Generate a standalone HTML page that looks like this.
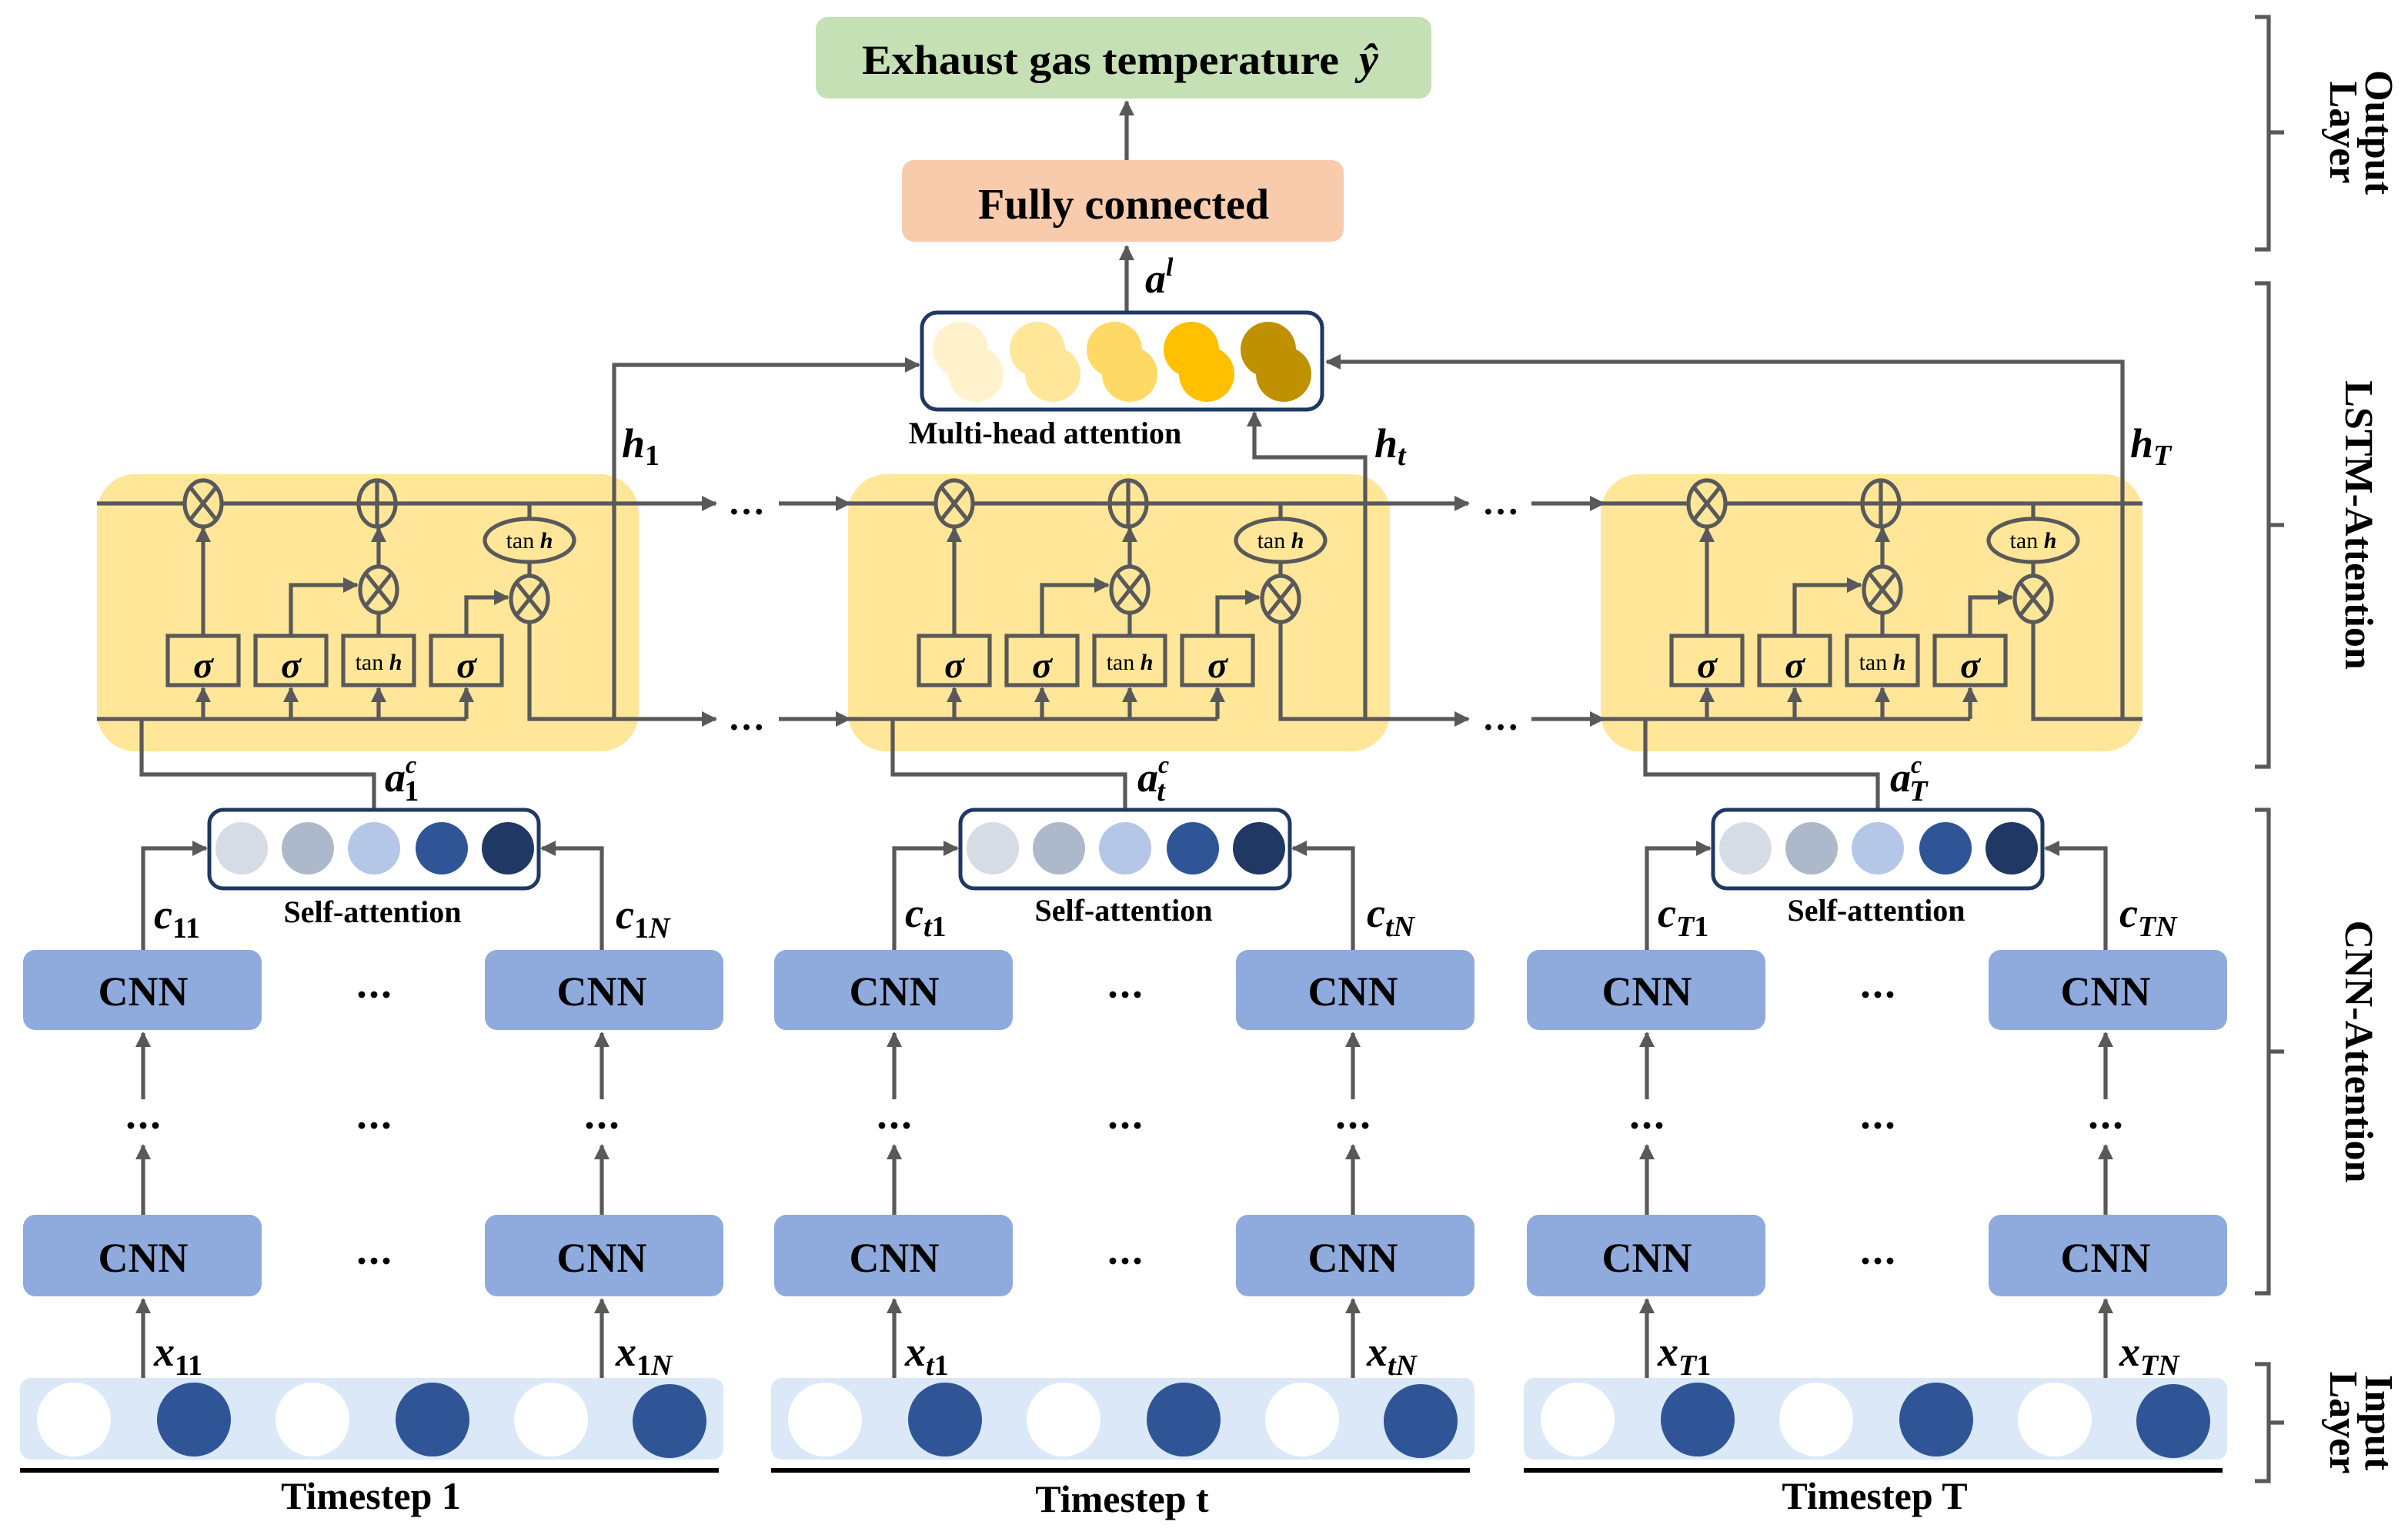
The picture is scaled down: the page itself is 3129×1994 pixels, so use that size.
<!DOCTYPE html>
<html><head><meta charset="utf-8"><style>
html,body{margin:0;padding:0;background:#fff}
svg{display:block}
text{font-family:"Liberation Serif",serif;font-weight:bold;fill:#000}
.m{font-style:italic}
.u{font-style:normal}
</style></head><body>
<svg width="3129" height="1994" viewBox="0 0 1564.5 997" xmlns="http://www.w3.org/2000/svg">
<defs>
<marker id="a" viewBox="0 0 10 10" refX="9" refY="5" markerWidth="13" markerHeight="10" markerUnits="userSpaceOnUse" orient="auto"><path d="M0,0 L10,5 L0,10 z" fill="#595959"/></marker>
<g id="blk">
  <rect x="63" y="308" width="352" height="180" rx="25" fill="#ffe699"/>
  <g stroke="#595959" stroke-width="2.6" fill="none">
    <path d="M63,327 H415"/>
    <path d="M63,467 H303"/>
    <path d="M344,403 V467 H415"/>
    <path d="M132,413 V343" marker-end="url(#a)"/>
    <path d="M189,413 V380 H232" marker-end="url(#a)"/>
    <path d="M246,413 V398"/>
    <path d="M246,369 V343" marker-end="url(#a)"/>
    <path d="M303,413 V388 H330" marker-end="url(#a)"/>
    <path d="M344,327 V337"/>
    <path d="M344,365 V375"/>
    <path d="M132,467 V447" marker-end="url(#a)"/>
    <path d="M189,467 V447" marker-end="url(#a)"/>
    <path d="M246,467 V447" marker-end="url(#a)"/>
    <path d="M303,467 V447" marker-end="url(#a)"/>
    <g fill="#ffe699">
      <ellipse cx="132" cy="327" rx="12" ry="15"/>
      <ellipse cx="245" cy="327" rx="12" ry="15"/>
      <ellipse cx="246" cy="383" rx="12" ry="15"/>
      <ellipse cx="344" cy="389" rx="12" ry="15"/>
      <ellipse cx="344" cy="351" rx="29" ry="14"/>
      <rect x="109" y="413" width="46" height="32"/>
      <rect x="166" y="413" width="46" height="32"/>
      <rect x="223" y="413" width="46" height="32"/>
      <rect x="280" y="413" width="46" height="32"/>
    </g>
    <path d="M124,317 L140,337 M140,317 L124,337"/>
    <path d="M233,327 H257 M245,312 V342"/>
    <path d="M238,373 L254,393 M254,373 L238,393"/>
    <path d="M336,379 L352,399 M352,379 L336,399"/>
    <path d="M243,526 V503 H92 V467"/>
    <path d="M93,617 V551 H134" marker-end="url(#a)"/>
    <path d="M391,617 V551 H352" marker-end="url(#a)"/>
    <path d="M93,789 V744" marker-end="url(#a)"/>
    <path d="M93,714 V671" marker-end="url(#a)"/>
    <path d="M391,789 V744" marker-end="url(#a)"/>
    <path d="M391,714 V671" marker-end="url(#a)"/>
    <path d="M93,895 V844" marker-end="url(#a)"/>
    <path d="M391,895 V844" marker-end="url(#a)"/>
  </g>
  <rect x="136" y="526" width="214" height="51" rx="9" fill="#fff" stroke="#1f3864" stroke-width="2.5"/>
  <circle cx="157" cy="551" r="17" fill="#d6dce5"/>
  <circle cx="200" cy="551" r="17" fill="#adb9ca"/>
  <circle cx="243" cy="551" r="17" fill="#b4c7e7"/>
  <circle cx="287" cy="551" r="17" fill="#2f5597"/>
  <circle cx="330" cy="551" r="17" fill="#203864"/>
  <g fill="#8faadc">
    <rect x="15" y="617" width="155" height="52" rx="8"/>
    <rect x="315" y="617" width="155" height="52" rx="8"/>
    <rect x="15" y="789" width="155" height="53" rx="8"/>
    <rect x="315" y="789" width="155" height="53" rx="8"/>
  </g>
  <g fill="#000">
    <circle cx="85" cy="731" r="2.2"/><circle cx="93" cy="731" r="2.2"/><circle cx="101" cy="731" r="2.2"/>
    <circle cx="383" cy="731" r="2.2"/><circle cx="391" cy="731" r="2.2"/><circle cx="399" cy="731" r="2.2"/>
    <circle cx="235" cy="731" r="2.2"/><circle cx="243" cy="731" r="2.2"/><circle cx="251" cy="731" r="2.2"/>
    <circle cx="235" cy="646" r="2.2"/><circle cx="243" cy="646" r="2.2"/><circle cx="251" cy="646" r="2.2"/>
    <circle cx="235" cy="819" r="2.2"/><circle cx="243" cy="819" r="2.2"/><circle cx="251" cy="819" r="2.2"/>
  </g>
  <rect x="13" y="895" width="457" height="53" rx="7" fill="#dae8f8"/>
  <circle cx="48" cy="922" r="24" fill="#fff"/>
  <circle cx="126" cy="922" r="24" fill="#2f5597"/>
  <circle cx="203" cy="922" r="24" fill="#fff"/>
  <circle cx="281" cy="922" r="24" fill="#2f5597"/>
  <circle cx="358" cy="922" r="24" fill="#fff"/>
  <circle cx="435" cy="923" r="24" fill="#2f5597"/>
  <path d="M13,955 H467" stroke="#000" stroke-width="3"/>
</g>
</defs>

<use href="#blk"/>
<use href="#blk" transform="translate(488,0)"/>
<use href="#blk" transform="translate(977,0)"/>

<g stroke="#595959" stroke-width="2.6" fill="none">
  <path d="M415,327 H465" marker-end="url(#a)"/>
  <path d="M415,467 H465" marker-end="url(#a)"/>
  <path d="M506,327 H552" marker-end="url(#a)"/>
  <path d="M506,467 H552" marker-end="url(#a)"/>
  <path d="M903,327 H954" marker-end="url(#a)"/>
  <path d="M903,467 H954" marker-end="url(#a)"/>
  <path d="M995,327 H1042" marker-end="url(#a)"/>
  <path d="M995,467 H1042" marker-end="url(#a)"/>
  <path d="M399,467 V237 H597" marker-end="url(#a)"/>
  <path d="M887,467 V297 H815 V268" marker-end="url(#a)"/>
  <path d="M1379,467 V235 H862" marker-end="url(#a)"/>
  <path d="M732,203 V160" marker-end="url(#a)"/>
  <path d="M732,104 V66" marker-end="url(#a)"/>
  <path d="M1465,11 H1474 V162 H1465 M1474,86 H1484"/>
  <path d="M1465,184 H1474 V498 H1465 M1474,341 H1484"/>
  <path d="M1465,526 H1474 V840 H1465 M1474,683 H1484"/>
  <path d="M1465,886 H1474 V962 H1465 M1474,924 H1484"/>
</g>
<g font-size="24" text-anchor="middle">
<text x="485" y="334">…</text><text x="485" y="474">…</text>
<text x="975" y="334">…</text><text x="975" y="474">…</text>
</g>

<rect x="530" y="11" width="400" height="53" rx="8" fill="#c5e0b4"/>
<text x="715" y="48" font-size="27" text-anchor="middle" textLength="310" lengthAdjust="spacingAndGlyphs">Exhaust gas temperature</text>
<text x="883" y="48" font-size="28" class="m">ŷ</text>
<rect x="586" y="104" width="287" height="53" rx="8" fill="#f8cbad"/>
<text x="730" y="142" font-size="28" text-anchor="middle">Fully connected</text>
<text x="744" y="190" font-size="27" class="m">a<tspan font-size="17" dy="-11">l</tspan></text>
<rect x="599" y="203" width="260" height="63" rx="10" fill="#fff" stroke="#1f3864" stroke-width="2.5"/>
<g>
<circle cx="624" cy="227" r="18" fill="#fff2cc"/><circle cx="634" cy="243" r="18" fill="#fff2cc"/>
<circle cx="674" cy="227" r="18" fill="#ffe699"/><circle cx="684" cy="243" r="18" fill="#ffe699"/>
<circle cx="724" cy="227" r="18" fill="#ffd966"/><circle cx="734" cy="243" r="18" fill="#ffd966"/>
<circle cx="774" cy="227" r="18" fill="#ffc000"/><circle cx="784" cy="243" r="18" fill="#ffc000"/>
<circle cx="824" cy="227" r="18" fill="#bf9000"/><circle cx="834" cy="243" r="18" fill="#bf9000"/>
</g>
<text x="679" y="288" font-size="20" text-anchor="middle">Multi-head  attention</text>

<g font-size="27" text-anchor="middle">
<text x="93" y="653">CNN</text><text x="391" y="653">CNN</text><text x="93" y="826">CNN</text><text x="391" y="826">CNN</text>
<text x="581" y="653">CNN</text><text x="879" y="653">CNN</text><text x="581" y="826">CNN</text><text x="879" y="826">CNN</text>
<text x="1070" y="653">CNN</text><text x="1368" y="653">CNN</text><text x="1070" y="826">CNN</text><text x="1368" y="826">CNN</text>
</g>
<g font-size="25" text-anchor="middle">
<text x="241" y="980">Timestep 1</text><text x="729" y="982">Timestep t</text><text x="1218" y="980">Timestep T</text>
</g>
<g font-size="20" text-anchor="middle">
<text x="242" y="599">Self-attention</text><text x="730" y="598">Self-attention</text><text x="1219" y="598">Self-attention</text>
</g>
<g font-size="24" class="m" text-anchor="middle">
<text x="132" y="440">σ</text><text x="189" y="440">σ</text><text x="303" y="440">σ</text>
<text x="620" y="440">σ</text><text x="677" y="440">σ</text><text x="791" y="440">σ</text>
<text x="1109" y="440">σ</text><text x="1166" y="440">σ</text><text x="1280" y="440">σ</text>
</g>
<g font-size="15" text-anchor="middle">
<text x="246" y="435" style="font-weight:normal">tan <tspan class="m" style="font-weight:bold">h</tspan></text>
<text x="734" y="435" style="font-weight:normal">tan <tspan class="m" style="font-weight:bold">h</tspan></text>
<text x="1223" y="435" style="font-weight:normal">tan <tspan class="m" style="font-weight:bold">h</tspan></text>
<text x="344" y="356" style="font-weight:normal">tan <tspan class="m" style="font-weight:bold">h</tspan></text>
<text x="832" y="356" style="font-weight:normal">tan <tspan class="m" style="font-weight:bold">h</tspan></text>
<text x="1321" y="356" style="font-weight:normal">tan <tspan class="m" style="font-weight:bold">h</tspan></text>
</g>
<g font-size="27" class="m">
<text x="100" y="603">c<tspan font-size="19" dy="6" class="u">11</tspan></text>
<text x="400" y="603">c<tspan font-size="19" dy="6"><tspan class="u">1</tspan>N</tspan></text>
<text x="588" y="602">c<tspan font-size="19" dy="6">t<tspan class="u">1</tspan></tspan></text>
<text x="888" y="602">c<tspan font-size="19" dy="6">tN</tspan></text>
<text x="1077" y="602">c<tspan font-size="19" dy="6">T<tspan class="u">1</tspan></tspan></text>
<text x="1377" y="602">c<tspan font-size="19" dy="6">TN</tspan></text>
<text x="100" y="887">x<tspan font-size="19" dy="6" class="u">11</tspan></text>
<text x="400" y="887">x<tspan font-size="19" dy="6"><tspan class="u">1</tspan>N</tspan></text>
<text x="588" y="887">x<tspan font-size="19" dy="6">t<tspan class="u">1</tspan></tspan></text>
<text x="888" y="887">x<tspan font-size="19" dy="6">tN</tspan></text>
<text x="1077" y="887">x<tspan font-size="19" dy="6">T<tspan class="u">1</tspan></tspan></text>
<text x="1377" y="887">x<tspan font-size="19" dy="6">TN</tspan></text>
<text x="250" y="514">a<tspan font-size="16" dy="-12">c</tspan><tspan font-size="19" dx="-8" dy="18" class="u">1</tspan></text>
<text x="739" y="514">a<tspan font-size="16" dy="-12">c</tspan><tspan font-size="19" dx="-8" dy="18">t</tspan></text>
<text x="1228" y="514">a<tspan font-size="16" dy="-12">c</tspan><tspan font-size="19" dx="-8" dy="18">T</tspan></text>
<text x="404" y="297">h<tspan font-size="19" dy="5" class="u">1</tspan></text>
<text x="893" y="297">h<tspan font-size="19" dy="5">t</tspan></text>
<text x="1384" y="297">h<tspan font-size="19" dy="5">T</tspan></text>
</g>
<g font-size="26" text-anchor="middle">
<text transform="translate(1537,86) rotate(90)">Output</text>
<text transform="translate(1514,86) rotate(90)">Layer</text>
<text transform="translate(1524,341) rotate(90)">LSTM-Attention</text>
<text transform="translate(1524,683) rotate(90)">CNN-Attention</text>
<text transform="translate(1537,924) rotate(90)">Input</text>
<text transform="translate(1514,924) rotate(90)">Layer</text>
</g>
</svg>
</body></html>
